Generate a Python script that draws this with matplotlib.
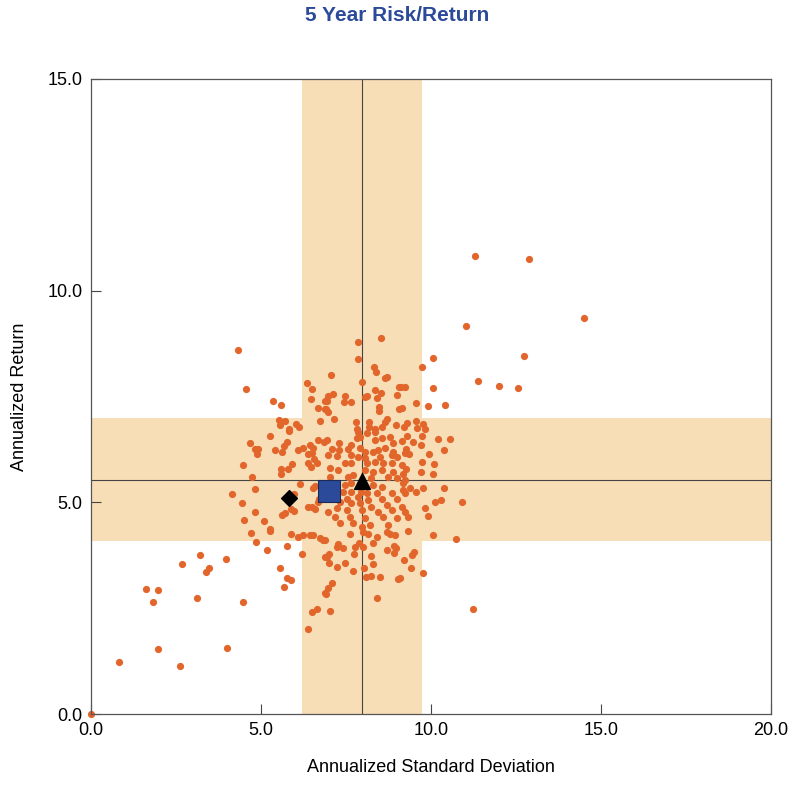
import matplotlib
matplotlib.use("Agg")
import matplotlib.pyplot as plt

# universe of funds: (annualized std dev, annualized return)
std_dev = [
    4.71, 5.26, 5.88, 6.10, 4.85, 5.17, 5.77, 3.20, 2.68, 3.98, 3.47, 3.37, 5.56, 5.77, 5.88,
    5.68, 1.62, 1.97, 1.83, 3.12, 4.46, 1.97, 4.00, 0.82, 2.63, 0.00,
    11.28, 12.87, 14.51, 11.02, 10.06, 12.74, 9.74, 11.37, 10.07, 11.99, 12.55, 9.90, 10.42,
    9.77, 9.82, 9.75, 10.20, 10.55, 9.72, 10.38, 9.93, 9.74, 10.10, 9.71, 10.05, 9.76, 10.38,
    9.81, 10.13, 10.30, 10.91, 9.90, 10.05, 10.73, 9.76, 11.24,
    4.32, 4.56, 5.35, 5.59, 6.36, 6.51, 6.47, 6.67, 6.88, 6.88, 5.53, 5.57, 5.71, 5.82, 6.03,
    6.13, 6.74,
    7.85, 8.52, 7.84, 7.05, 7.98, 8.31, 8.39, 8.65, 8.71, 7.12, 6.98, 6.94, 7.48, 7.43, 7.65,
    8.06, 8.13, 8.36, 8.52, 8.41, 9.01, 9.05, 8.47, 8.47, 6.92, 6.96, 7.14, 7.78, 8.17, 8.19,
    8.64, 8.71, 8.55, 8.97, 7.83, 8.35, 9.06,
    9.55, 9.15, 9.12, 9.25, 9.55, 9.28, 9.22, 9.60,
    5.26, 5.82, 4.69, 4.81, 4.92, 4.87, 5.40, 5.63, 5.69, 5.77, 6.09, 6.25, 6.45, 6.52, 6.69,
    6.85, 6.38, 6.49, 6.55, 6.39, 6.64, 6.48, 4.46, 5.92, 5.80, 5.58, 5.58, 4.75, 4.83, 4.16,
    6.15, 5.98, 6.58, 6.52, 6.71, 6.67, 4.43, 4.82, 5.89, 5.97, 5.61, 5.71, 6.37, 6.51, 6.60,
    4.49, 5.10, 5.26,
    6.94, 7.28, 7.28, 7.10, 7.57, 7.66, 7.81, 7.91, 7.86, 8.11, 8.35, 8.35, 8.55, 8.79, 8.89,
    8.65, 8.45, 8.30, 8.06, 7.91, 8.89, 6.98, 7.23, 7.66, 7.86, 8.06, 8.50, 8.84, 8.99, 7.47,
    7.66, 8.11, 8.35, 8.60, 8.84, 7.03, 7.27, 8.06, 8.30, 8.55, 8.89, 7.03, 7.57, 7.72, 8.25,
    8.74, 8.99, 7.47, 7.66, 8.30, 8.55, 7.42, 7.66, 7.95, 8.11, 8.40, 8.84, 7.52, 7.86, 8.16,
    8.55, 8.99, 7.32, 7.66, 7.91, 8.25, 8.70, 7.23, 7.52, 7.96, 8.45, 8.84, 6.98, 7.18, 7.62,
    8.06, 8.60, 8.99, 7.32, 7.72, 8.21, 8.74, 7.96,
    9.28, 9.14, 9.48, 9.26, 9.24, 9.35, 9.14, 9.26, 9.19, 9.24, 9.19, 9.38, 9.19, 9.24, 9.57,
    9.14, 9.24, 9.33,
    6.25, 6.44, 6.54, 6.74, 6.83, 6.22, 6.88, 6.87, 6.51, 6.65, 6.37,
    7.63, 8.01, 8.16, 8.40, 8.70, 8.79, 8.94, 6.88, 7.27, 7.23, 7.42, 7.76, 7.89, 7.99, 8.30,
    8.70, 8.92, 8.97, 8.92, 7.00, 6.93, 7.75, 8.24, 7.00, 7.46, 7.24, 8.30, 7.71, 8.03, 8.09,
    8.23, 8.51, 9.02, 7.08, 6.96, 6.91, 8.40, 7.03,
    9.31, 9.51, 9.43, 9.20, 9.40, 9.09,
]
ann_return = [
    4.27, 4.32, 4.26, 4.19, 4.07, 3.88, 3.98, 3.76, 3.54, 3.67, 3.44, 3.35, 3.45, 3.22, 3.17,
    3.01, 2.96, 2.93, 2.65, 2.74, 2.64, 1.54, 1.55, 1.22, 1.13, 0.00,
    10.82, 10.74, 9.35, 9.16, 8.42, 8.45, 8.20, 7.86, 7.69, 7.75, 7.69, 7.28, 7.30,
    6.86, 6.74, 6.57, 6.49, 6.50, 6.35, 6.24, 6.13, 5.95, 5.91, 5.72, 5.66, 5.33, 5.34,
    4.86, 5.00, 5.05, 5.01, 4.67, 4.22, 4.13, 3.34, 2.47,
    8.60, 7.67, 7.39, 7.29, 7.82, 7.68, 7.43, 7.22, 7.39, 7.20, 6.94, 6.83, 6.91, 6.73, 6.84,
    6.77, 6.93,
    8.79, 8.87, 8.38, 8.00, 7.85, 8.19, 8.08, 7.94, 7.97, 7.57, 7.50, 7.40, 7.51, 7.38, 7.37,
    7.48, 7.50, 7.65, 7.58, 7.46, 7.53, 7.72, 7.24, 7.16, 7.20, 7.13, 6.97, 6.89, 6.89, 6.79,
    6.90, 6.98, 6.78, 6.82, 6.74, 6.74, 7.21,
    7.34, 7.22, 7.72, 7.73, 6.91, 6.87, 6.79, 6.76,
    6.57, 6.68, 6.40, 6.26, 6.26, 6.14, 6.24, 6.20, 6.33, 6.43, 6.24, 6.28, 6.35, 6.28, 6.47,
    6.42, 6.13, 6.17, 6.02, 5.94, 5.92, 5.83, 5.89, 5.90, 5.78, 5.79, 5.66, 5.59, 5.31, 5.19,
    5.43, 5.19, 5.39, 5.33, 5.09, 5.01, 4.98, 4.76, 4.85, 4.79, 4.69, 4.74, 4.88, 4.88, 4.85,
    4.58, 4.56, 4.37,
    6.47, 6.39, 6.24, 6.26, 6.25, 6.35, 6.51, 6.55, 6.67, 6.63, 6.67, 6.47, 6.51, 6.55, 6.39,
    6.28, 6.24, 6.20, 6.20, 6.28, 6.20, 6.12, 6.09, 6.12, 6.08, 6.04, 6.08, 6.12, 6.08, 5.92,
    5.92, 5.92, 5.96, 5.92, 5.92, 5.80, 5.76, 5.76, 5.72, 5.76, 5.72, 5.61, 5.61, 5.65, 5.57,
    5.61, 5.57, 5.41, 5.45, 5.41, 5.37, 5.25, 5.25, 5.25, 5.21, 5.21, 5.21, 5.09, 5.13, 5.05,
    5.09, 5.09, 5.01, 4.98, 4.98, 4.90, 4.94, 4.86, 4.82, 4.82, 4.78, 4.82, 4.78, 4.66, 4.66,
    4.62, 4.66, 4.62, 4.50, 4.50, 4.46, 4.46, 4.42,
    6.57, 6.46, 6.42, 6.25, 6.16, 6.14, 5.88, 5.78, 5.68, 5.53, 5.45, 5.33, 5.29, 5.21, 5.24,
    4.88, 4.78, 4.65,
    4.23, 4.24, 4.23, 4.15, 4.11, 3.77, 3.70, 2.85, 2.42, 2.47, 2.00,
    4.25, 4.31, 4.25, 4.19, 4.31, 4.25, 4.23, 4.11, 4.02, 3.94, 3.91, 3.95, 4.03, 3.94, 4.03,
    3.87, 3.97, 3.91, 3.81, 3.78, 3.72, 3.79, 3.73, 3.57, 3.56, 3.47, 3.54, 3.38, 3.46, 3.24,
    3.26, 3.23, 3.20, 3.10, 2.98, 2.84, 2.74, 2.43,
    4.32, 3.83, 3.75, 3.64, 3.44, 3.22,
]

# highlighted products
fund_x, fund_y = 7.00, 5.27
bench_x, bench_y = 7.97, 5.50
index_x, index_y = 5.82, 5.10

# universe bands (std dev range / return range) and medians
sd_band = (6.20, 9.74)
ret_band = (4.09, 6.99)
sd_median = 7.97
ret_median = 5.53

x_ticks = [0, 5, 10, 15, 20]
y_ticks = [0, 5, 10, 15]

narrow = ["Liberation Sans Narrow", "Liberation Sans", "DejaVu Sans"]
plt.rcParams["font.family"] = narrow

fig = plt.figure(figsize=(7.94, 7.96), dpi=100)
ax = fig.add_axes([0.1146, 0.103, 0.8564, 0.7978])

band_col = "#F8DEB6"
ax.axvspan(*sd_band, color=band_col, lw=0, zorder=0)
ax.axhspan(*ret_band, color=band_col, lw=0, zorder=0)
ax.axvline(sd_median, color="#444444", lw=0.8, zorder=1)
ax.axhline(ret_median, color="#444444", lw=0.8, zorder=1)

ax.scatter(std_dev, ann_return, s=27, color="#E2662C", lw=0, zorder=2, clip_on=False)
ax.scatter([fund_x], [fund_y], marker="s", s=260, color="#2C4A9A",
           edgecolor="#1A2A55", lw=0.8, zorder=4)
ax.scatter([bench_x], [bench_y], marker="^", s=130, color="black", zorder=4)
ax.scatter([index_x], [index_y], marker="D", s=65, color="black", zorder=4)

ax.set_xlim(0, 20)
ax.set_ylim(0, 15)
ax.set_xticks(x_ticks)
ax.set_yticks(y_ticks)
ax.set_xticklabels([f"{t:.1f}" for t in x_ticks])
ax.set_yticklabels([f"{t:.1f}" for t in y_ticks])
ax.tick_params(direction="in", length=7, width=0.8, color="#444444",
               labelsize=13, pad=6)
for s in ax.spines.values():
    s.set_color("#555555")
    s.set_linewidth(0.9)

ax.set_xlabel("Annualized Standard Deviation", fontsize=13, labelpad=14)
ax.set_ylabel("Annualized Return", fontsize=13, labelpad=14)
fig.text(0.5, 0.981, "5 Year Risk/Return", ha="center", va="center",
         fontsize=15, fontweight="bold", color="#2C4A9A")

fig.savefig("out.png", dpi=100)
